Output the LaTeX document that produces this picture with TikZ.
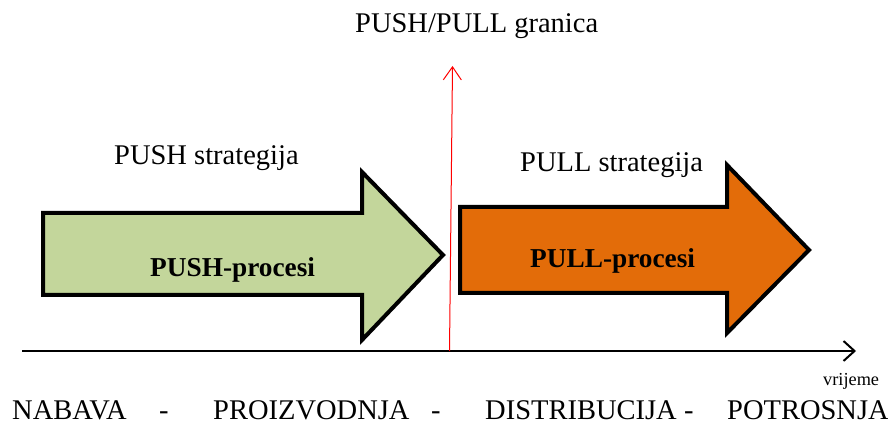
\documentclass[tikz,border=0pt]{standalone}
\usepackage{fontspec}
\setmainfont{Liberation Serif}
\usetikzlibrary{arrows.meta}
\definecolor{pushgreen}{HTML}{C3D69B}
\definecolor{pullorange}{HTML}{E36C09}
\begin{document}
\begin{tikzpicture}[x=1pt,y=-1pt,
  lbl/.style={inner sep=0pt,anchor=base west,font=\fontsize{28.5}{30}\selectfont},
  boldlbl/.style={inner sep=0pt,anchor=base west,font=\fontsize{27.3}{29}\selectfont\bfseries},
  bigarrow/.style={draw=black,line width=4pt,line join=miter}]
\useasboundingbox (0,0) rectangle (888,427);
% big arrows
\path[bigarrow,fill=pushgreen] (43,213) -- (362,213) -- (362,172) -- (443,255) -- (362,340) -- (362,295) -- (43,295) -- cycle;
\path[bigarrow,fill=pullorange] (460,207) -- (727,207) -- (727,165) -- (809,250) -- (727,333) -- (727,293) -- (460,293) -- cycle;
% time axis
\coordinate (axs) at (22,351);
\coordinate (axe) at (856,351);
\draw[line width=2.5pt,-{Straight Barb[length=11pt,width=20pt,line width=2pt]}] (axs) -- (axe);
% boundary
\coordinate (bb) at (449.5,351);
\coordinate (bt) at (452.5,66);
\draw[red,line width=1pt,-{Straight Barb[length=13pt,width=18pt,line width=1pt]}] (bb) -- (bt);
% labels
\node[lbl] (title) at (355,33) {PUSH/PULL granica};
\node[lbl] (pushs) at (114,165) {PUSH strategija};
\node[lbl] (pulls) at (520,172) {PULL strategija};
\node[boldlbl] (pushp) at (150,277) {PUSH-procesi};
\node[boldlbl] (pullp) at (530,268) {PULL-procesi};
\node[inner sep=0pt,anchor=base west,font=\fontsize{18.3}{20}\selectfont] (time) at (823,385) {vrijeme};
\node[lbl] (s1) at (12,419) {NABAVA};
\node[lbl] (d1) at (159,419) {-};
\node[lbl] (s2) at (213,419) {PROIZVODNJA};
\node[lbl] (d2) at (431,419) {-};
\node[lbl] (s3) at (485,419) {DISTRIBUCIJA};
\node[lbl] (d3) at (684,419) {-};
\node[lbl] (s4) at (727,419) {POTROSNJA};
\end{tikzpicture}
\end{document}
